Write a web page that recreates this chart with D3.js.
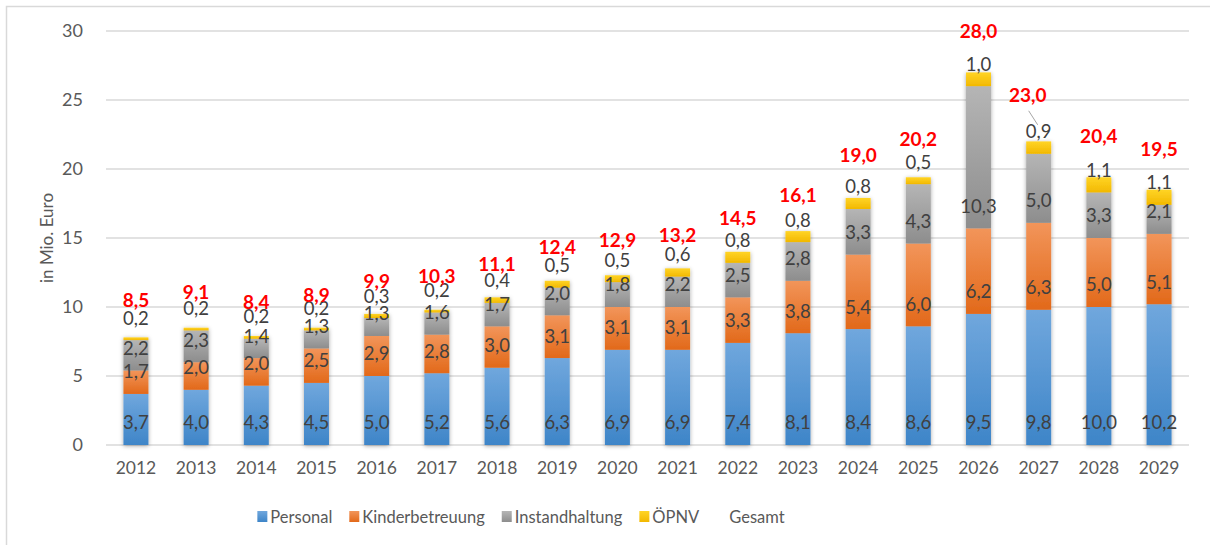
<!DOCTYPE html>
<html>
<head>
<meta charset="utf-8">
<script src="https://cdn.jsdelivr.net/npm/d3@7"></script>
<style>
  body { margin: 0; background: #fff; }
  svg { display: block; font-family: Lato, "Open Sans", sans-serif; }
</style>
</head>
<body>
<svg id="chart" width="1210" height="545"></svg>
<script>
var years = [2012, 2013, 2014, 2015, 2016, 2017, 2018, 2019, 2020, 2021, 2022, 2023, 2024, 2025, 2026, 2027, 2028, 2029];
var personal = [3.7, 4.0, 4.3, 4.5, 5.0, 5.2, 5.6, 6.3, 6.9, 6.9, 7.4, 8.1, 8.4, 8.6, 9.5, 9.8, 10.0, 10.2];
var kinderbetreuung = [1.7, 2.0, 2.0, 2.5, 2.9, 2.8, 3.0, 3.1, 3.1, 3.1, 3.3, 3.8, 5.4, 6.0, 6.2, 6.3, 5.0, 5.1];
var instandhaltung = [2.2, 2.3, 1.4, 1.3, 1.3, 1.6, 1.7, 2.0, 1.8, 2.2, 2.5, 2.8, 3.3, 4.3, 10.3, 5.0, 3.3, 2.1];
var oepnv = [0.2, 0.2, 0.2, 0.2, 0.3, 0.2, 0.4, 0.5, 0.5, 0.6, 0.8, 0.8, 0.8, 0.5, 1.0, 0.9, 1.1, 1.1];
var gesamt = [8.5, 9.1, 8.4, 8.9, 9.9, 10.3, 11.1, 12.4, 12.9, 13.2, 14.5, 16.1, 19.0, 20.2, 28.0, 23.0, 20.4, 19.5];
var yTicks = [0, 5, 10, 15, 20, 25, 30];

var seriesNames = ["Personal", "Kinderbetreuung", "Instandhaltung", "ÖPNV"];
var seriesKeys = ["personal", "kinder", "instand", "oepnv"];
var gradStops = [
  ["#70a7dd", "#3e85c8"],
  ["#f2955a", "#e2691a"],
  ["#b5b5b5", "#8d8d8d"],
  ["#ffd426", "#f2b800"]
];

var fmt = function(v) { return d3.format(".1f")(v).replace(".", ","); };

var svg = d3.select("#chart");
var margin = {left: 106, right: 21, top: 31, bottom: 100};
var width = 1210 - margin.left - margin.right,
    height = 545 - margin.top - margin.bottom;

// outer frame (only top and left visible)
svg.append("rect")
  .attr("x", 6.5).attr("y", 6.5)
  .attr("width", 1220).attr("height", 560)
  .attr("fill", "none")
  .attr("stroke", "#d9d9d9")
  .attr("stroke-width", 1.5);

var defs = svg.append("defs");
gradStops.forEach(function(s, i) {
  var g = defs.append("linearGradient")
    .attr("id", "grad-" + seriesKeys[i])
    .attr("x1", 0).attr("y1", 0).attr("x2", 0).attr("y2", 1);
  g.append("stop").attr("offset", "0%").attr("stop-color", s[0]);
  g.append("stop").attr("offset", "100%").attr("stop-color", s[1]);
});
var shadow = defs.append("filter").attr("id", "shadow")
  .attr("x", "-40%").attr("y", "-10%").attr("width", "180%").attr("height", "120%");
shadow.append("feDropShadow")
  .attr("dx", 0).attr("dy", 1)
  .attr("stdDeviation", 2)
  .attr("flood-color", "#000")
  .attr("flood-opacity", 0.35);

var g = svg.append("g").attr("transform", "translate(" + margin.left + "," + margin.top + ")");

var x = d3.scaleBand().domain(years).range([0, width]).paddingInner(0.585).paddingOuter(0.29);
var y = d3.scaleLinear().domain([0, 30]).range([height, 0]);

// gridlines
g.append("g").attr("class", "grid")
  .selectAll("line").data(yTicks).enter().append("line")
  .attr("x1", 0).attr("x2", width)
  .attr("y1", function(d) { return y(d); })
  .attr("y2", function(d) { return y(d); })
  .attr("stroke", "#d9d9d9")
  .attr("stroke-width", 1.5);

// y axis labels
var yAxis = g.append("g")
  .attr("transform", "translate(-20,0)")
  .call(d3.axisLeft(y).tickValues(yTicks).tickSize(0).tickFormat(d3.format("d")));
yAxis.select(".domain").remove();
yAxis.selectAll("text")
  .attr("fill", "#595959")
  .attr("font-size", 18)
  .attr("font-family", "Lato, sans-serif");

// x axis labels
var xAxis = g.append("g")
  .attr("transform", "translate(0," + (height + 14) + ")")
  .call(d3.axisBottom(x).tickSize(0));
xAxis.select(".domain").remove();
xAxis.selectAll("text")
  .attr("fill", "#595959")
  .attr("font-size", 17.5)
  .attr("font-family", "Lato, sans-serif");

// y title
svg.append("text")
  .attr("transform", "translate(53," + (margin.top + height / 2) + ") rotate(-90)")
  .attr("text-anchor", "middle")
  .attr("fill", "#595959")
  .attr("font-size", 17)
  .text("in Mio. Euro");

// stacked data
var rows = years.map(function(yr, i) {
  return {year: yr, personal: personal[i], kinder: kinderbetreuung[i], instand: instandhaltung[i], oepnv: oepnv[i], gesamt: gesamt[i]};
});
var stacked = d3.stack().keys(seriesKeys)(rows);

var bars = g.append("g").selectAll(".bar").data(rows).enter().append("g")
  .attr("class", "bar")
  .attr("filter", "url(#shadow)");

bars.selectAll("rect")
  .data(function(d, i) { return stacked.map(function(s) { return {key: s.key, seg: s[i]}; }); })
  .enter().append("rect")
  .attr("x", function(d) { return x(d.seg.data.year); })
  .attr("width", x.bandwidth())
  .attr("y", function(d) { return y(d.seg[1]); })
  .attr("height", function(d) { return y(d.seg[0]) - y(d.seg[1]); })
  .attr("fill", function(d) { return "url(#grad-" + d.key + ")"; });

// segment labels (placed at inside base)
var labels = g.append("g");
stacked.forEach(function(s) {
  labels.selectAll(".lbl-" + s.key).data(s).enter().append("text")
    .attr("class", "lbl-" + s.key)
    .attr("x", function(d) { return x(d.data.year) + x.bandwidth() / 2; })
    .attr("y", function(d) { return y(d[0]) - 22; })
    .attr("dy", "0.35em")
    .attr("text-anchor", "middle")
    .attr("fill", "#404040")
    .attr("font-size", 18.5)
    .text(function(d) { return fmt(d.data[s.key]); });
});

// leader line for the ÖPNV label in 2027
var leaderRow = rows.filter(function(d) { return d.year === 2027; });
g.append("g").selectAll("line").data(leaderRow).enter().append("line")
  .attr("x1", function(d) { return x(d.year) + x.bandwidth() / 2 - 10; })
  .attr("x2", function(d) { return x(d.year) + x.bandwidth() / 2 - 1; })
  .attr("y1", function(d) { return y(d.personal + d.kinder + d.instand) - 43; })
  .attr("y2", function(d) { return y(d.personal + d.kinder + d.instand) - 29; })
  .attr("stroke", "#a6a6a6")
  .attr("stroke-width", 1);

// Gesamt labels
g.append("g").selectAll("text").data(rows).enter().append("text")
  .attr("x", function(d) { return x(d.year) + x.bandwidth() / 2 - (d.year === 2027 ? 11 : 0); })
  .attr("y", function(d) { return y(d.gesamt) - 27 - (d.year === 2027 ? 5 : 0); })
  .attr("dy", "0.35em")
  .attr("text-anchor", "middle")
  .attr("fill", "#ff0000")
  .attr("font-weight", "bold")
  .attr("font-size", 19)
  .text(function(d) { return fmt(d.gesamt); });

// legend, laid out from measured text widths and centred under the plot
var legendItems = seriesNames.map(function(n, i) { return {name: n, key: seriesKeys[i]}; });
legendItems.push({name: "Gesamt", key: null});
var legend = svg.append("g").attr("transform", "translate(0,517)");
var li = legend.selectAll("g").data(legendItems).enter().append("g");
li.filter(function(d) { return d.key; }).append("rect")
  .attr("x", 0).attr("y", -6).attr("width", 10).attr("height", 11)
  .attr("fill", function(d) { return "url(#grad-" + d.key + ")"; });
li.append("text")
  .attr("x", 13)
  .attr("dy", "0.35em")
  .attr("fill", "#595959")
  .attr("font-size", 16.5)
  .text(function(d) { return d.name; });

var pos = 0;
li.each(function(d) {
  d.x = pos;
  pos += 13 + this.querySelector("text").getComputedTextLength() + 17;
});
var total = pos - 17;
var start = 521 - total / 2;
li.attr("transform", function(d) { return "translate(" + (start + d.x) + ",0)"; });
</script>
</body>
</html>
